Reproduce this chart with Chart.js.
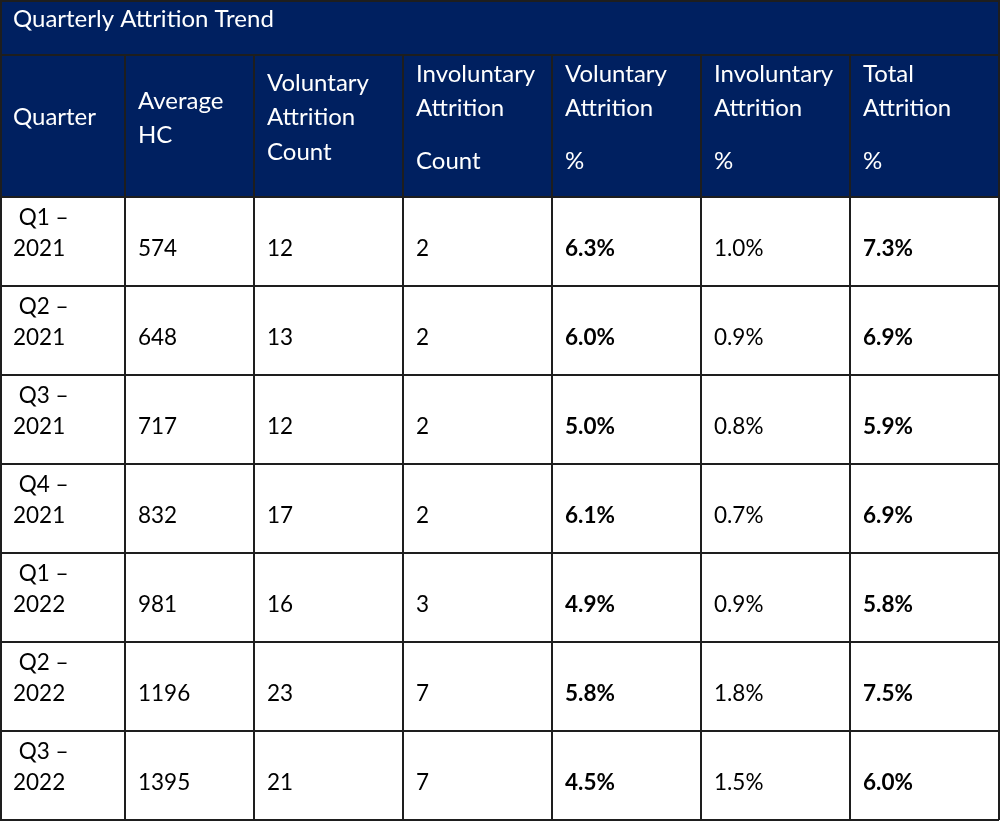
<!DOCTYPE html>
<html>
<head>
<meta charset="utf-8">
<script src="https://cdn.jsdelivr.net/npm/chart.js@4.4.1/dist/chart.umd.min.js"></script>
<style>
    html, body { margin: 0; padding: 0; background: #fff; }
    #wrap { width: 1000px; height: 822px; }
</style>
</head>
<body>
<div id="wrap"><canvas id="attritionTable" width="1000" height="822"></canvas></div>
<script>
// ===== DATA =====
const title = 'Quarterly Attrition Trend';
const headers = [
    ['Quarter'],
    ['Average', 'HC'],
    ['Voluntary', 'Attrition', 'Count'],
    ['Involuntary', 'Attrition', 'Count'],
    ['Voluntary', 'Attrition', '%'],
    ['Involuntary', 'Attrition', '%'],
    ['Total', 'Attrition', '%']
];
const quarters = ['Q1 – 2021', 'Q2 – 2021', 'Q3 – 2021', 'Q4 – 2021', 'Q1 – 2022', 'Q2 – 2022', 'Q3 – 2022'];
const avgHC = [574, 648, 717, 832, 981, 1196, 1395];
const volCount = [12, 13, 12, 17, 16, 23, 21];
const invCount = [2, 2, 2, 2, 3, 7, 7];
const volPct = [6.3, 6.0, 5.0, 6.1, 4.9, 5.8, 4.5];
const invPct = [1.0, 0.9, 0.8, 0.7, 0.9, 1.8, 1.5];
const totalPct = [7.3, 6.9, 5.9, 6.9, 5.8, 7.5, 6.0];

// ===== LAYOUT =====
const colWidths = [125, 129, 149, 149, 149, 149, 149];
const titleH = 55, headerH = 142, rowH = 89;
// line offsets inside header cells (from cell top)
const headerLineY = [[62], [46, 80], [28, 62, 97], [19, 53, 106], [19, 53, 106], [19, 53, 106], [19, 53, 106]];
const NAVY = '#002060';
const LINE = '#1e1e1e';
const FONT = 'Lato, "Open Sans", sans-serif';
const HEAD_FS = 24;
const BODY_FS = 22.5;

const pct = v => v.toFixed(1) + '%';

const tablePlugin = {
    id: 'tablePlugin',
    afterDraw(chart) {
        const { ctx, scales: { x, y } } = chart;
        const colEdges = [0];
        colWidths.forEach(w => colEdges.push(colEdges[colEdges.length - 1] + w));
        const rowEdges = [0, titleH, titleH + headerH];
        quarters.forEach(() => rowEdges.push(rowEdges[rowEdges.length - 1] + rowH));
        const X = v => x.getPixelForValue(v);
        const Y = v => y.getPixelForValue(v);
        const right = colEdges[colEdges.length - 1];

        ctx.save();
        // header background
        ctx.fillStyle = NAVY;
        ctx.fillRect(X(0), Y(0), X(right) - X(0), Y(rowEdges[2]) - Y(0));

        // title
        ctx.fillStyle = '#fff';
        ctx.textBaseline = 'middle';
        ctx.font = `${HEAD_FS}px ${FONT}`;
        ctx.fillText(title, X(13), Y(19));

        // header cells
        headers.forEach((lines, c) => {
            lines.forEach((t, i) => ctx.fillText(t, X(colEdges[c] + 13), Y(titleH + headerLineY[c][i])));
        });

        // body cells
        const cols = [avgHC, volCount, invCount, volPct.map(pct), invPct.map(pct), totalPct.map(pct)];
        const bold = [false, false, false, true, false, true];
        ctx.fillStyle = '#000';
        quarters.forEach((q, r) => {
            const top = rowEdges[r + 2];
            const [qq, yr] = q.split(' – ');
            ctx.font = `${BODY_FS}px ${FONT}`;
            ctx.fillText(' ' + qq + ' –', X(colEdges[0] + 13), Y(top + 21));
            ctx.fillText(yr, X(colEdges[0] + 13), Y(top + 52));
            cols.forEach((arr, c) => {
                ctx.font = `${bold[c] ? 'bold ' : ''}${BODY_FS}px ${FONT}`;
                ctx.fillText(String(arr[r]), X(colEdges[c + 1] + 13), Y(top + 52));
            });
        });

        // grid lines
        ctx.strokeStyle = LINE;
        ctx.lineWidth = 2;
        ctx.beginPath();
        rowEdges.forEach(e => {
            const py = Math.max(Y(e), 1);
            ctx.moveTo(X(0), py);
            ctx.lineTo(X(right), py);
        });
        colEdges.forEach((e, i) => {
            const px = Math.max(X(e), 1);
            const from = (i === 0 || i === colEdges.length - 1) ? 0 : titleH;
            ctx.moveTo(px, Y(from));
            ctx.lineTo(px, Y(rowEdges[rowEdges.length - 1]));
        });
        ctx.stroke();
        ctx.restore();
    }
};

new Chart(document.getElementById('attritionTable'), {
    type: 'scatter',
    data: { datasets: [{ data: [] }] },
    options: {
        responsive: false,
        animation: false,
        layout: { padding: 0 },
        plugins: { legend: { display: false }, tooltip: { enabled: false } },
        scales: {
            x: { type: 'linear', min: 0, max: 1000, display: false },
            y: { type: 'linear', min: 0, max: 822, reverse: true, display: false }
        }
    },
    plugins: [tablePlugin]
});
</script>
</body>
</html>
